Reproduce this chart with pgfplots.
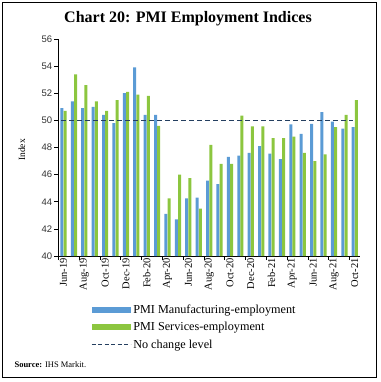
\documentclass[border=0pt]{standalone}
\usepackage{pgfplots}
\pgfplotsset{compat=1.18}
\usepackage{fontspec}
\setmainfont{Liberation Serif}
\newfontfamily\sansfont{Liberation Sans}
\definecolor{mblue}{HTML}{5B9BD5}
\definecolor{sgreen}{HTML}{8CC63F}
\definecolor{navy}{HTML}{243F60}
\pgfplotstableread{
x mfg svc
0 50.9 50.7
1 51.4 53.4
2 50.9 52.6
3 51.0 51.4
4 50.4 50.7
5 49.8 51.5
6 52.0 52.1
7 53.9 51.9
8 50.4 51.8
9 50.4 49.6
10 43.1 44.25
11 42.7 46.0
12 44.25 45.75
13 44.3 43.5
14 45.55 48.2
15 45.3 46.8
16 47.3 46.8
17 47.4 50.35
18 47.6 49.55
19 48.1 49.55
20 47.55 48.7
21 47.15 48.7
22 49.7 48.8
23 49.0 47.6
24 49.75 47.0
25 50.6 47.5
26 49.9 49.5
27 49.4 50.4
28 49.5 51.5
}\pmidata
\begin{document}
\begin{tikzpicture}[x=1pt,y=1pt]
\begin{scope}[shift={(-58.3pt,256pt)}]
\useasboundingbox (0,0) rectangle (380,-382);
\draw[line width=1pt] (3,-3) rectangle (376.5,-377);
\node[font=\bfseries\fontsize{16}{19}\selectfont] at (188,-19) {Chart 20: PMI Employment Indices};
\node[rotate=90, font=\fontsize{9.5}{11}\selectfont] at (22,-150) {Index};
\node[anchor=west, font=\fontsize{8.5}{10}\selectfont] at (11,-365) {\textbf{Source:} IHS Markit.};
\end{scope}
\begin{axis}[scale only axis,
  width=301.7pt, height=217pt,
  xmin=-0.5, xmax=28.5, ymin=40, ymax=56,
  ytick={40,42,...,56},
  axis x line*=bottom, axis y line*=left,
  axis line style={line width=0.6pt},
  tick align=outside, major tick length=4pt,
  tick style={line width=0.6pt, black},
  xtick={-0.5,1.5,...,27.5}, xticklabels={},
  extra x ticks={0,2,...,28},
  extra x tick labels={Jun-19,Aug-19,Oct-19,Dec-19,Feb-20,Apr-20,Jun-20,Aug-20,Oct-20,Dec-20,Feb-21,Apr-21,Jun-21,Aug-21,Oct-21},
  extra x tick style={major tick length=0pt},
  xticklabel style={rotate=90, anchor=east, font=\fontsize{10.5}{12}\selectfont, inner sep=2pt},
  yticklabel style={font=\sansfont\fontsize{9.5}{11}\selectfont, inner sep=2pt, text=black!80},
  /pgf/number format/assume math mode=true,
  legend style={at={(0.108,-0.215)}, anchor=north west, draw=none, fill=none,
    font=\fontsize{12.2}{14}\selectfont, row sep=3.5pt, inner sep=0pt},
  legend cell align=left,
]
\addplot[ybar, bar width=3pt, bar shift=-1.6pt, fill=mblue, draw=none,
  legend image code/.code={\fill[mblue] (0pt,-3pt) rectangle (39pt,3pt);}]
  table[x=x, y=mfg] {\pmidata};
\addlegendentry{PMI Manufacturing-employment}
\addplot[ybar, bar width=3pt, bar shift=1.6pt, fill=sgreen, draw=none,
  legend image code/.code={\fill[sgreen] (0pt,-3pt) rectangle (39pt,3pt);}]
  table[x=x, y=svc] {\pmidata};
\addlegendentry{PMI Services-employment}
\addplot[navy, line width=1.6pt, dash pattern=on 5pt off 3pt, no marks, sharp plot,
  legend image code/.code={\draw[navy, line width=1.2pt, dash pattern=on 4pt off 2.5pt] (0pt,0pt) -- (39pt,0pt);}]
  coordinates {(-0.2,50) (27.8,50)};
\addlegendentry{No change level}
\end{axis}
\end{tikzpicture}
\end{document}
